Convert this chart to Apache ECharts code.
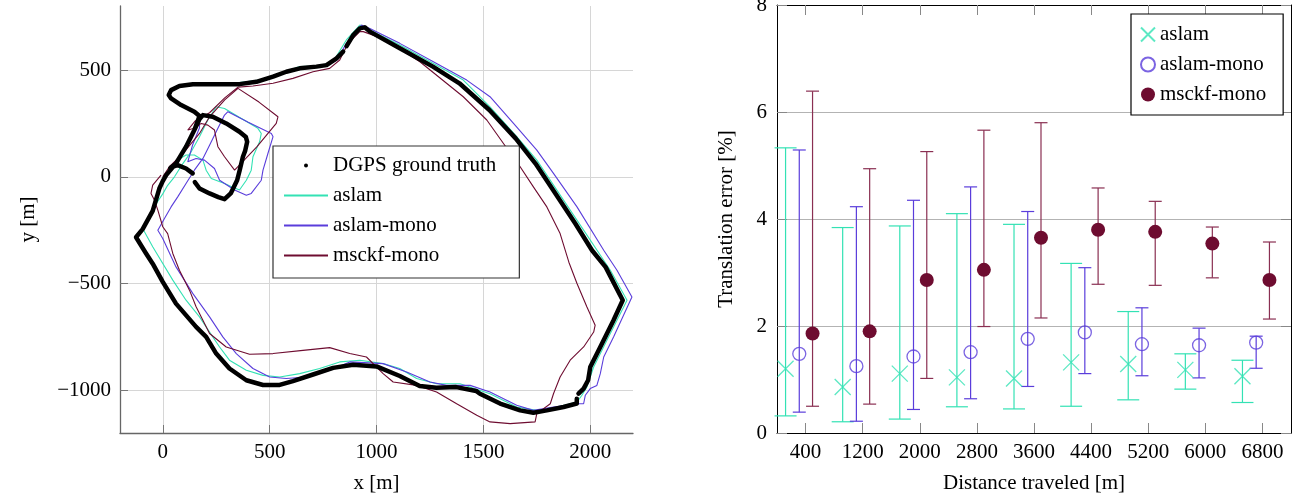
<!DOCTYPE html>
<html><head><meta charset="utf-8">
<script src="https://cdn.jsdelivr.net/npm/echarts@6/dist/echarts.min.js"></script>
<style>html,body{margin:0;padding:0;background:#fff;}#L{position:absolute;left:0;top:0;width:650px;height:502px;}#R{position:absolute;left:650px;top:0;width:653px;height:502px;}</style>
</head><body><div id="L"></div><div id="R"></div>
<script>
// ---------- Left: trajectories [x, y] in metres ----------
const dgps = [
 [0,-20],[16,8],[62,63],[109,141],[148,219],[172,270],[188,289],
 [234,281],[297,250],[359,211],[389,186],[395,164],[385,120],[375,94],[360,31],[348,-16],[318,-78],[289,-105],[260,-95],[219,-78],[172,-55],[150,-25],
 null,
 [140,16],[109,39],[70,55],[40,45],
 null,
 [35,40],[62,63],[109,141],[148,219],[172,285],
 [148,305],[86,336],[39,367],[28,383],[39,406],[78,425],[141,433],[250,434],[359,434],[438,445],[516,469],[578,492],[641,508],[719,516],[766,523],[813,555],[844,586],
 null,
 [860,612],[891,664],[922,695],[945,700],[969,680],[1109,602],[1264,516],[1388,438],[1528,313],[1651,180],[1744,62],[1837,-78],[1930,-219],[2008,-344],[2072,-423],[2152,-578],[2109,-672],[2047,-797],[2000,-891],[1990,-953],[1969,-992],[1945,-1016],
 null,
 [1937,-1040],[1937,-1062],[1875,-1078],[1797,-1094],[1734,-1105],[1672,-1094],[1578,-1062],[1484,-1016],[1466,-1003],[1373,-985],[1280,-988],[1202,-980],[1109,-933],[1000,-888],[891,-880],[797,-895],[703,-926],[609,-957],[547,-975],[469,-975],[391,-953],[312,-898],[250,-828],[203,-750],[156,-703],[62,-594],[0,-492],[-47,-407],[-78,-359],[-125,-283],[-94,-245],[-47,-160],[-16,-55],[0,-20]
];
const aslamTraj = [
 [55,0],[94,62],[133,117],[172,188],[211,266],[250,328],[289,320],[445,227],[461,203],[453,164],[422,94],[414,31],[391,-16],[359,-62],[320,-45],[289,-31],[227,-8],[203,31],[188,78],[148,102],[109,102],[70,78],
 [100,130],[140,200],[172,289],[148,308],[86,340],[39,370],[28,386],[39,410],[78,428],[141,438],[219,441],[359,441],[453,453],[547,484],[641,516],[734,519],[797,539],[859,641],[922,711],[969,688],[1109,617],[1266,531],[1406,453],[1531,328],[1656,188],[1750,78],[1875,-109],[1969,-250],[2094,-438],[2172,-578],[2078,-766],[2016,-891],[1984,-984],[1961,-1023],[1938,-1055],[1813,-1086],[1750,-1094],[1656,-1078],[1531,-1016],[1391,-969],[1281,-969],[1188,-945],[1109,-898],[1031,-875],[922,-859],[828,-867],[734,-898],[641,-922],[547,-938],[469,-930],[391,-906],[312,-859],[266,-797],[234,-750],[172,-656],[109,-578],[47,-484],[-47,-328],[-94,-242],[-55,-180],[-30,-125],[0,-80],[23,-40],[55,0]
];
const monoTraj = [
 [109,-31],[148,31],[188,86],[219,148],[258,227],[289,289],[305,305],[400,255],[508,203],[516,188],[492,109],[469,31],[461,-16],[414,-78],[391,-86],[336,-62],[266,-16],[242,39],[195,78],[156,86],[117,70],
 [140,150],[172,230],[172,289],[148,308],[86,340],[39,370],[28,386],[39,410],[78,428],[141,436],[250,436],[359,438],[438,448],[516,472],[578,494],[641,511],[719,519],[766,527],[813,545],[859,625],[930,711],[969,695],[1109,625],[1281,531],[1422,453],[1531,375],[1641,250],[1750,125],[1828,16],[1938,-141],[2063,-344],[2125,-438],[2195,-563],[2109,-750],[2063,-844],[2047,-922],[2031,-977],[2000,-992],[1977,-1023],[1969,-1063],[1938,-1063],[1813,-1081],[1734,-1094],[1656,-1070],[1531,-1008],[1438,-977],[1328,-977],[1250,-961],[1141,-914],[1031,-875],[875,-867],[781,-906],[672,-938],[578,-945],[500,-938],[422,-898],[344,-828],[281,-750],[219,-656],[141,-547],[62,-422],[0,-289],[-23,-250],[8,-195],[39,-141],[70,-94],[109,-31]
];
const msckfTraj = [
 [0,0],[31,47],[94,109],[172,203],[219,281],[290,360],[352,414],[450,350],[539,281],[531,250],[440,140],[336,31],[289,94],[258,141],[242,219],[211,242],[180,250],[148,227],[117,219],
 [150,260],[219,300],[290,370],[352,420],[422,425],[516,438],[609,461],[703,492],[781,508],[828,547],[867,625],[922,680],[938,680],[1047,641],[1203,539],[1406,375],[1516,266],[1594,156],[1672,47],[1734,-47],[1797,-141],[1859,-266],[1900,-400],[1938,-500],[1984,-609],[2023,-695],[2016,-727],[1969,-797],[1906,-859],[1859,-938],[1828,-1016],[1813,-1063],[1750,-1109],[1742,-1148],[1625,-1156],[1531,-1148],[1469,-1117],[1375,-1063],[1281,-1008],[1188,-977],[1078,-961],[1031,-922],[953,-844],[875,-828],[781,-800],[656,-813],[516,-828],[406,-831],[297,-797],[219,-734],[156,-609],[125,-531],[78,-438],[47,-359],[23,-266],[0,-234],[-23,-156],[-39,-109],[-55,-78],[-47,-39],[-8,8]
];

// ---------- Right: translation error [%] ----------
const distances = [400,1200,2000,2800,3600,4400,5200,6000,6800];
const distanceLabels = ['400','1200','2000','2800','3600','4400','5200','6000','6800'];
const aslamMean = [1.20,0.86,1.11,1.04,1.02,1.32,1.29,1.18,1.06];
const aslamLow  = [0.32,0.21,0.26,0.49,0.45,0.50,0.62,0.82,0.57];
const aslamHigh = [5.33,3.84,3.87,4.10,3.90,3.17,2.27,1.48,1.36];
const monoMean  = [1.48,1.25,1.43,1.51,1.76,1.88,1.66,1.64,1.69];
const monoLow   = [0.39,0.22,0.44,0.64,0.87,1.11,1.07,1.03,1.21];
const monoHigh  = [5.29,4.23,4.35,4.60,4.14,3.09,2.34,1.96,1.81];
const msckfMean = [1.86,1.90,2.86,3.05,3.65,3.80,3.76,3.54,2.86];
const msckfLow  = [0.50,0.54,1.02,1.99,2.15,2.78,2.76,2.90,2.13];
const msckfHigh = [6.39,4.94,5.26,5.66,5.80,4.58,4.33,3.85,3.57];

// ---------- styles ----------
const FONT = 'Liberation Serif';
const C_ASLAM = '#33e2b4', C_MONO = '#5a3ddb', C_MSCKF = '#6e0c30';
const SHIFT = {aslam: -280, mono: -88, msckf: 98}; // horizontal dodge within a group
const txt = (sz) => ({fontFamily: FONT, fontSize: sz, color: '#000'});
const minus = v => String(v).replace('-', '\u2212');

// ---------- left chart ----------
const L = echarts.init(document.getElementById('L'));
const axL = {
  axisLine: {show: true, onZero: false, lineStyle: {color: '#666', width: 1.3}},
  axisTick: {show: true, inside: true, length: 8, lineStyle: {color: '#777'}},
  splitLine: {show: true, showMinLine: false, showMaxLine: false, lineStyle: {color: '#d6d6d6', width: 1}},
  nameLocation: 'middle', nameTextStyle: txt(21)
};
const noDot = {itemStyle: {opacity: 0}};
L.setOption({
  animation: false,
  grid: {left: 120, top: 6, width: 513, height: 427, outerBoundsMode: 'none', containLabel: false},
  xAxis: Object.assign({type: 'value', min: -200, max: 2200, name: 'x [m]', nameGap: 40,
    axisLabel: Object.assign(txt(21), {margin: 9, showMinLabel: false, showMaxLabel: false, formatter: minus})}, axL),
  yAxis: Object.assign({type: 'value', min: -1200, max: 800, name: 'y [m]', nameGap: 81,
    axisLabel: Object.assign(txt(21), {margin: 9, showMinLabel: false, showMaxLabel: false, formatter: minus})}, axL),
  legend: {orient: 'vertical', left: 273, top: 146, itemWidth: 44, itemHeight: 5, itemGap: 9,
    padding: [9, 23, 12, 10], borderColor: '#333', borderWidth: 1.2, backgroundColor: '#fff',
    textStyle: Object.assign(txt(21), {lineHeight: 20}),
    data: [{name: 'DGPS ground truth', lineStyle: {opacity: 0}},
      Object.assign({name: 'aslam'}, noDot), Object.assign({name: 'aslam-mono'}, noDot), Object.assign({name: 'msckf-mono'}, noDot)]},
  series: [
    {name: 'DGPS ground truth', type: 'line', data: dgps, symbol: 'circle', showSymbol: false, connectNulls: false,
      lineStyle: {color: '#000', width: 4.5, join: 'round', cap: 'round'}, itemStyle: {color: '#000'}, z: 5},
    {name: 'aslam', type: 'line', data: aslamTraj, symbol: 'none', lineStyle: {color: C_ASLAM, width: 1.1}, itemStyle: {color: C_ASLAM}, z: 3},
    {name: 'aslam-mono', type: 'line', data: monoTraj, symbol: 'none', lineStyle: {color: C_MONO, width: 1.1}, itemStyle: {color: C_MONO}, z: 3},
    {name: 'msckf-mono', type: 'line', data: msckfTraj, symbol: 'none', lineStyle: {color: C_MSCKF, width: 1.1}, itemStyle: {color: C_MSCKF}, z: 3}
  ]
});

// ---------- right chart ----------
const R = echarts.init(document.getElementById('R'));
function errBars(halfCap, color) {
  return function (params, api) {
    const x = api.value(0);
    const a = api.coord([x, api.value(1)]), b = api.coord([x, api.value(2)]);
    const st = {stroke: color, lineWidth: 1.2};
    return {type: 'group', children: [
      {type: 'line', shape: {x1: a[0], y1: a[1], x2: b[0], y2: b[1]}, style: st},
      {type: 'line', shape: {x1: a[0] - halfCap, y1: a[1], x2: a[0] + halfCap, y2: a[1]}, style: st},
      {type: 'line', shape: {x1: b[0] - halfCap, y1: b[1], x2: b[0] + halfCap, y2: b[1]}, style: st}
    ]};
  };
}
const errData = (lo, hi, s) => distances.map((d, i) => [d + s, lo[i], hi[i]]);
const ptData = (m, s) => distances.map((d, i) => [d + s, m[i]]);
const tickR = {show: true, inside: true, length: 10, alignWithLabel: true, lineStyle: {color: '#888'}};
const lineR = {show: true, onZero: false, lineStyle: {color: '#000', width: 1}};
R.setOption({
  animation: false,
  grid: {left: 127, top: 5, width: 514, height: 428, outerBoundsMode: 'none', containLabel: false},
  xAxis: [
    {type: 'category', data: distanceLabels, boundaryGap: true, position: 'bottom', name: 'Distance traveled [m]',
      nameLocation: 'middle', nameGap: 40, nameTextStyle: txt(21), axisLine: lineR, axisTick: tickR,
      axisLabel: Object.assign(txt(21), {margin: 9, interval: 0}), splitLine: {show: false}},
    {type: 'value', min: 0, max: 7200, show: false},
    {type: 'category', data: distanceLabels, boundaryGap: true, position: 'top', axisLine: lineR, axisTick: tickR,
      axisLabel: {show: false}, splitLine: {show: false}}
  ],
  yAxis: [
    {type: 'value', min: 0, max: 8, interval: 2, position: 'left', name: 'Translation error [%]', nameLocation: 'middle',
      nameGap: 40, nameTextStyle: txt(21), axisLine: lineR, axisTick: {show: true, inside: true, length: 10, lineStyle: {color: '#888'}},
      axisLabel: Object.assign(txt(21), {margin: 10}),
      splitLine: {show: true, showMinLine: false, showMaxLine: false, lineStyle: {color: '#b3b3b3', width: 1}}},
    {type: 'value', min: 0, max: 8, interval: 2, position: 'right', axisLine: lineR,
      axisTick: {show: true, inside: true, length: 10, lineStyle: {color: '#888'}}, axisLabel: {show: false}, splitLine: {show: false}}
  ],
  legend: {orient: 'vertical', left: 481, top: 14, itemWidth: 14, itemHeight: 14, itemGap: 9,
    padding: [10, 17, 10, 9], borderColor: '#000', borderWidth: 1.2, backgroundColor: '#fff',
    textStyle: Object.assign(txt(21), {lineHeight: 20}), data: ['aslam', 'aslam-mono', 'msckf-mono']},
  series: [
    {name: 'aslam err', type: 'custom', xAxisIndex: 1, data: errData(aslamLow, aslamHigh, SHIFT.aslam), renderItem: errBars(11, C_ASLAM), encode: {x: 0, y: [1, 2]}, z: 2},
    {name: 'aslam-mono err', type: 'custom', xAxisIndex: 1, data: errData(monoLow, monoHigh, SHIFT.mono), renderItem: errBars(6.5, C_MONO), encode: {x: 0, y: [1, 2]}, z: 2},
    {name: 'msckf-mono err', type: 'custom', xAxisIndex: 1, data: errData(msckfLow, msckfHigh, SHIFT.msckf), renderItem: errBars(6.5, '#8a2f52'), encode: {x: 0, y: [1, 2]}, z: 2},
    {name: 'aslam', type: 'scatter', xAxisIndex: 1, data: ptData(aslamMean, SHIFT.aslam), symbol: 'path://M0,0L10,10M10,0L0,10', symbolSize: 16,
      itemStyle: {color: C_ASLAM, borderColor: C_ASLAM, borderWidth: 1.3}, z: 4},
    {name: 'aslam-mono', type: 'scatter', xAxisIndex: 1, data: ptData(monoMean, SHIFT.mono), symbol: 'circle', symbolSize: 13,
      itemStyle: {color: 'rgba(255,255,255,0)', borderColor: C_MONO, borderWidth: 1.3}, z: 4},
    {name: 'msckf-mono', type: 'scatter', xAxisIndex: 1, data: ptData(msckfMean, SHIFT.msckf), symbol: 'circle', symbolSize: 14,
      itemStyle: {color: C_MSCKF, opacity: 1}, emphasis: {disabled: true}, z: 4}
  ]
});
</script></body></html>
